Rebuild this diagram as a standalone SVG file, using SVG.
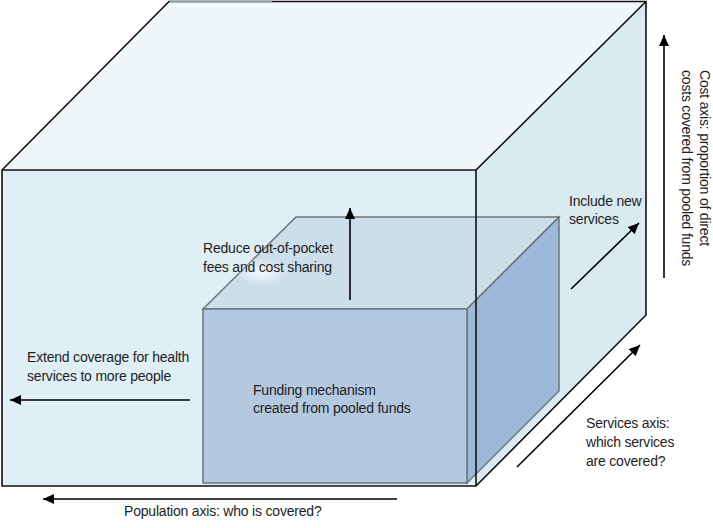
<svg xmlns="http://www.w3.org/2000/svg" width="713" height="528" viewBox="0 0 713 528">
<style>
  text { font-family: "Liberation Sans", Arial, sans-serif; font-size: 14px; fill: #1e1e1e; letter-spacing: -0.2px; }
  .big { stroke: #111; stroke-width: 1.6; stroke-linejoin: miter; }
  .small { stroke: #6e757c; stroke-width: 1.5; stroke-linejoin: miter; }
  .arrow { stroke: #000; stroke-width: 1.6; fill: none; marker-end: url(#ah); }
</style>
<defs>
  <marker id="ah" markerUnits="userSpaceOnUse" markerWidth="12" markerHeight="11" refX="11" refY="5" orient="auto">
    <path d="M0,0 L11,5 L0,10 z" fill="#000"/>
  </marker>
  <radialGradient id="glow" cx="0.5" cy="0.5" r="0.5">
    <stop offset="0" stop-color="#ffffff" stop-opacity="0.85"/>
    <stop offset="1" stop-color="#ffffff" stop-opacity="0"/>
  </radialGradient>
</defs>
<rect width="713" height="528" fill="#ffffff"/>

<g id="outer-cube">
  <polygon points="476,170 646,1.5 646,315 476,486" fill="#d9ebf1"/>
  <polygon points="2,170 169,1.5 646,1.5 476,170" fill="#eff7fa"/>
  <rect x="2" y="170" width="474" height="316" fill="#dfeff5"/>
</g>

<g id="inner-cube">
  <polygon points="203,309 296,217 559,217 467,309" fill="#cddeeb" class="small"/>
  <polygon points="467,309 559,217 559,391 467,483" fill="#9db8d8" class="small"/>
  <rect x="203" y="309" width="264" height="174" fill="#b4c8e0" class="small"/>
  <ellipse cx="262" cy="272" rx="26" ry="14" fill="url(#glow)"/>
</g>

<g id="outer-cube-edges" fill="none">
  <polygon points="2,170 169,1.5 646,1.5 646,315 476,486 2,486" class="big"/>
  <polyline points="2,170 476,170 646,1.5" class="big"/>
  <line x1="476" y1="170" x2="476" y2="486" class="big"/>
  <line x1="170" y1="1.5" x2="272" y2="1.5" stroke="#9aa3a8" stroke-width="2"/>
</g>

<g id="connectors">
  <line x1="350" y1="300" x2="350" y2="208" class="arrow"/>
  <line x1="190" y1="400" x2="10" y2="400" class="arrow"/>
  <line x1="397" y1="499" x2="43" y2="499" class="arrow"/>
  <line x1="664" y1="278" x2="664" y2="35" class="arrow"/>
  <line x1="517" y1="467" x2="640" y2="345" class="arrow"/>
  <line x1="571" y1="289" x2="639" y2="223" class="arrow"/>
</g>

<g id="label-reduce">
  <text x="203" y="253">Reduce out-of-pocket</text>
  <text x="203" y="271.5">fees and cost sharing</text>
</g>
<g id="label-funding">
  <text x="253" y="395">Funding mechanism</text>
  <text x="253" y="413">created from pooled funds</text>
</g>
<g id="label-extend">
  <text x="27" y="362">Extend coverage for health</text>
  <text x="27" y="380.5">services to more people</text>
</g>
<g id="label-include">
  <text x="569" y="206">Include new</text>
  <text x="569" y="224">services</text>
</g>
<g id="label-services-axis">
  <text x="586" y="428">Services axis:</text>
  <text x="586" y="447">which services</text>
  <text x="586" y="466">are covered?</text>
</g>
<g id="label-population-axis">
  <text x="124" y="516">Population axis: who is covered?</text>
</g>
<g id="label-cost-axis" transform="translate(700,70) rotate(90)">
  <text x="0" y="0">Cost axis: proportion of direct</text>
  <text x="0" y="18">costs covered from pooled funds</text>
</g>
</svg>
